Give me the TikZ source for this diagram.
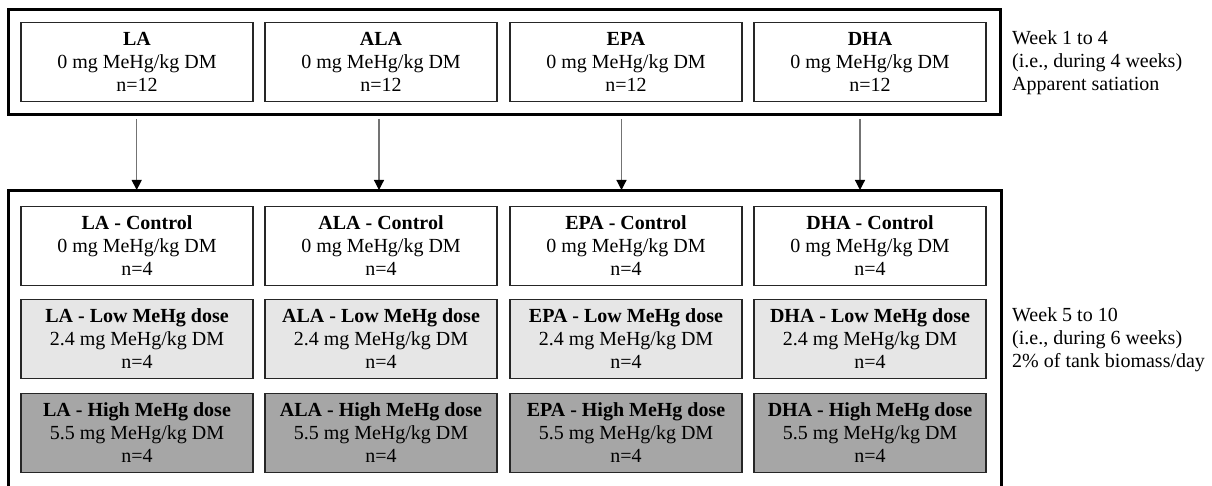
\documentclass[tikz,border=0pt]{standalone}
\usepackage{fontspec}
\setmainfont{Liberation Serif}
\usetikzlibrary{arrows.meta}
\definecolor{lowfill}{HTML}{E6E6E6}
\definecolor{highfill}{HTML}{A6A6A6}
\begin{document}
\begin{tikzpicture}[x=1pt,y=-1pt,
  txt/.style={font=\fontsize{20}{23}\selectfont},
  grp/.style={draw=black,line width=3pt},
  cell/.style={txt,draw=black!85,line width=1.8pt,rectangle,minimum width=232pt,minimum height=79pt,inner sep=0pt,align=center},
  ctrl/.style={cell,fill=white},
  low/.style={cell,fill=lowfill},
  high/.style={cell,fill=highfill},
  conn/.style={draw=black!55,line width=1.2pt,-{Triangle[width=10pt,length=10pt,fill=black,color=black]}},
  note/.style={txt,anchor=west,align=left,inner sep=0pt}]
\useasboundingbox (0,0) rectangle (1212,486);
% group frames
\node[grp,rectangle,minimum width=992pt,minimum height=105pt,inner sep=0pt] (topgrp) at (504,62.5) {};
\draw[grp] (8,500) -- (8,190.5) -- (1001,190.5) -- (1001,500);
\coordinate (botgrp) at (504,190.5);
% top row
\node[ctrl] (t1) at (137,62) {\textbf{LA}\\0 mg MeHg/kg DM\\n=12};
\node[ctrl] (t2) at (381,62) {\textbf{ALA}\\0 mg MeHg/kg DM\\n=12};
\node[ctrl] (t3) at (626,62) {\textbf{EPA}\\0 mg MeHg/kg DM\\n=12};
\node[ctrl] (t4) at (870,62) {\textbf{DHA}\\0 mg MeHg/kg DM\\n=12};
% control row
\node[ctrl] (c1) at (137,246) {\textbf{LA - Control}\\0 mg MeHg/kg DM\\n=4};
\node[ctrl] (c2) at (381,246) {\textbf{ALA - Control}\\0 mg MeHg/kg DM\\n=4};
\node[ctrl] (c3) at (626,246) {\textbf{EPA - Control}\\0 mg MeHg/kg DM\\n=4};
\node[ctrl] (c4) at (870,246) {\textbf{DHA - Control}\\0 mg MeHg/kg DM\\n=4};
% low row
\node[low] (l1) at (137,339) {\textbf{LA - Low MeHg dose}\\2.4 mg MeHg/kg DM\\n=4};
\node[low] (l2) at (381,339) {\textbf{ALA - Low MeHg dose}\\2.4 mg MeHg/kg DM\\n=4};
\node[low] (l3) at (626,339) {\textbf{EPA - Low MeHg dose}\\2.4 mg MeHg/kg DM\\n=4};
\node[low] (l4) at (870,339) {\textbf{DHA - Low MeHg dose}\\2.4 mg MeHg/kg DM\\n=4};
% high row
\node[high] (h1) at (137,433) {\textbf{LA - High MeHg dose}\\5.5 mg MeHg/kg DM\\n=4};
\node[high] (h2) at (381,433) {\textbf{ALA - High MeHg dose}\\5.5 mg MeHg/kg DM\\n=4};
\node[high] (h3) at (626,433) {\textbf{EPA - High MeHg dose}\\5.5 mg MeHg/kg DM\\n=4};
\node[high] (h4) at (870,433) {\textbf{DHA - High MeHg dose}\\5.5 mg MeHg/kg DM\\n=4};
% arrows
\coordinate (s1) at (136.7,119); \coordinate (e1) at (136.7,190);
\coordinate (s2) at (379,119);   \coordinate (e2) at (379,190);
\coordinate (s3) at (621.5,119); \coordinate (e3) at (621.5,190);
\coordinate (s4) at (860,119);   \coordinate (e4) at (860,190);
\foreach \i in {1,2,3,4} \draw[conn] (s\i) -- (e\i);
% notes
\node[note] (n1) at (1012,63) {Week 1 to 4\\(i.e., during 4 weeks)\\Apparent satiation};
\node[note] (n2) at (1012,340) {Week 5 to 10\\(i.e., during 6 weeks)\\2\% of tank biomass/day};
\end{tikzpicture}
\end{document}
